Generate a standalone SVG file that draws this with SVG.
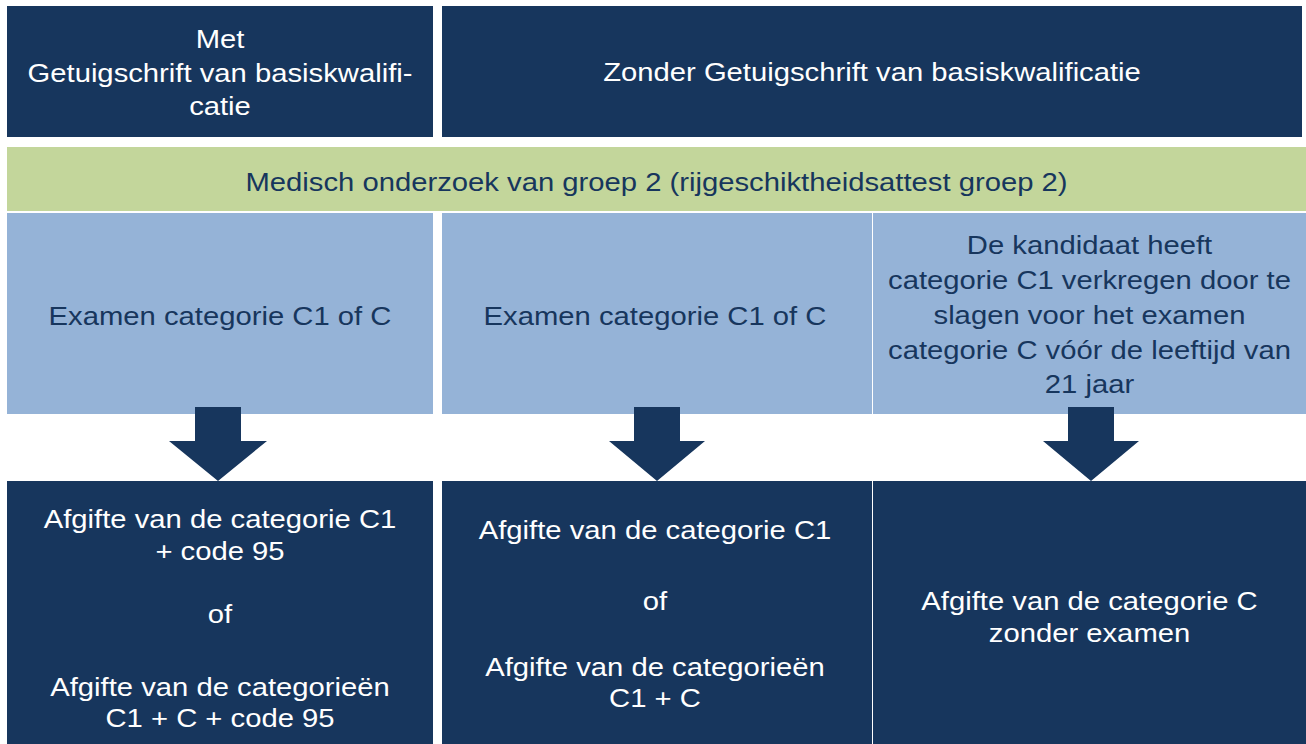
<svg xmlns="http://www.w3.org/2000/svg" width="1306" height="744" viewBox="0 0 1306 744">
<style>
.dark{fill:#17365D}
.green{fill:#C3D69B}
.blue{fill:#95B3D7}
.arrow{fill:#17365D}
text{font-family:"Liberation Sans",Arial,sans-serif;font-size:25px;text-anchor:middle}
.w{fill:#FFFFFF}
.n{fill:#17365D}
</style>
<rect width="1306" height="744" fill="#FFFFFF"/>
<g id="met">
<rect class="dark" x="7" y="6" width="426" height="131"/>
<text class="w" transform="matrix(1.17 0 0 1 220 48)">Met</text>
<text class="w" transform="matrix(1.17 0 0 1 220 81.5)">Getuigschrift van basiskwalifi-</text>
<text class="w" transform="matrix(1.17 0 0 1 220 115)">catie</text>
</g>
<g id="zonder">
<rect class="dark" x="442" y="6" width="860" height="131"/>
<text class="w" transform="matrix(1.17 0 0 1 872 81)">Zonder Getuigschrift van basiskwalificatie</text>
</g>
<g id="medisch">
<rect class="green" x="7" y="147" width="1299" height="64"/>
<text class="n" transform="matrix(1.17 0 0 1 656.5 191)">Medisch onderzoek van groep 2 (rijgeschiktheidsattest groep 2)</text>
</g>
<g id="examen1">
<rect class="blue" x="7" y="213" width="426" height="201"/>
<text class="n" transform="matrix(1.17 0 0 1 220 325)">Examen categorie C1 of C</text>
</g>
<g id="examen2">
<rect class="blue" x="442" y="213" width="430" height="201"/>
<text class="n" transform="matrix(1.17 0 0 1 655 325)">Examen categorie C1 of C</text>
</g>
<g id="kandidaat">
<rect class="blue" x="873" y="213" width="433" height="201"/>
<text class="n" transform="matrix(1.17 0 0 1 1089.5 254)">De kandidaat heeft</text>
<text class="n" transform="matrix(1.17 0 0 1 1089.5 289)">categorie C1 verkregen door te</text>
<text class="n" transform="matrix(1.17 0 0 1 1089.5 324)">slagen voor het examen</text>
<text class="n" transform="matrix(1.17 0 0 1 1089.5 359)">categorie C vóór de leeftijd van</text>
<text class="n" transform="matrix(1.17 0 0 1 1089.5 393)">21 jaar</text>
</g>
<g id="afgifte1">
<rect class="dark" x="7" y="481" width="426" height="263"/>
<text class="w" transform="matrix(1.17 0 0 1 220 528)">Afgifte van de categorie C1</text>
<text class="w" transform="matrix(1.17 0 0 1 220 560)">+ code 95</text>
<text class="w" transform="matrix(1.17 0 0 1 220 623)">of</text>
<text class="w" transform="matrix(1.17 0 0 1 220 696)">Afgifte van de categorieën</text>
<text class="w" transform="matrix(1.17 0 0 1 220 727)">C1 + C + code 95</text>
</g>
<g id="afgifte2">
<rect class="dark" x="442" y="481" width="430" height="263"/>
<text class="w" transform="matrix(1.17 0 0 1 655 539)">Afgifte van de categorie C1</text>
<text class="w" transform="matrix(1.17 0 0 1 655 610)">of</text>
<text class="w" transform="matrix(1.17 0 0 1 655 676)">Afgifte van de categorieën</text>
<text class="w" transform="matrix(1.17 0 0 1 655 707)">C1 + C</text>
</g>
<g id="afgifte3">
<rect class="dark" x="873" y="481" width="433" height="263"/>
<text class="w" transform="matrix(1.17 0 0 1 1089.5 610)">Afgifte van de categorie C</text>
<text class="w" transform="matrix(1.17 0 0 1 1089.5 642)">zonder examen</text>
</g>
<g id="connectors">
<polygon class="arrow" points="195,407 241,407 241,441 267,441 218,481 169,441 195,441"/>
<polygon class="arrow" points="634,407 680,407 680,441 705,441 657,481 609,441 634,441"/>
<polygon class="arrow" points="1068,407 1114,407 1114,441 1139,441 1091,481 1043,441 1068,441"/>
</g>
</svg>
